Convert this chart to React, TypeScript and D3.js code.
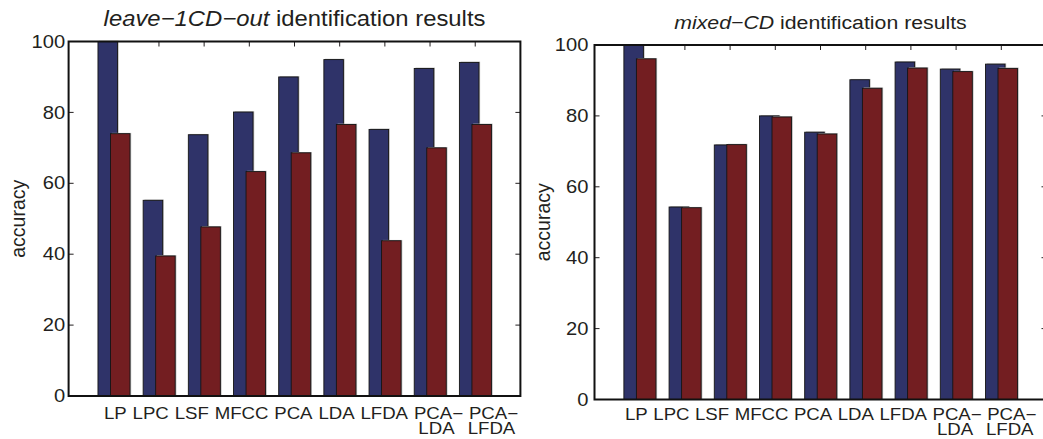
import * as d3 from "d3";

const categories = ["LP", "LPC", "LSF", "MFCC", "PCA", "LDA", "LFDA", "PCA−\nLDA", "PCA−\nLFDA"];
const leaveOutBlue = [100, 55.2, 73.7, 80.1, 90.0, 94.9, 75.2, 92.4, 94.1];
const leaveOutRed = [74.0, 39.5, 47.7, 63.3, 68.6, 76.6, 43.8, 70.0, 76.6];
const mixedBlue = [100, 54.3, 71.8, 80.0, 75.4, 90.2, 95.2, 93.2, 94.6];
const mixedRed = [96.1, 54.1, 71.9, 79.7, 74.9, 87.8, 93.5, 92.5, 93.4];
const yTicks = [0, 20, 40, 60, 80, 100];

const BLUE = "#2f3369";
const RED = "#731e21";
const INK = "#231f20";
const FONT = "'Liberation Sans', Arial, Helvetica, sans-serif";
const SX = 1.12; // text in the picture is a bit wider than plain Arial
const LABEL_SX = 1.15;
const LABEL_SIZE = 16.2;

// the category names run as one line under the axis in the original,
// so lay them out word after word between a start and an end point
let ctx: CanvasRenderingContext2D | null = null;
function textWidth(s: string) {
  if (!ctx) ctx = document.createElement("canvas").getContext("2d");
  if (!ctx) return s.length * LABEL_SIZE * 0.6;
  ctx.font = `${LABEL_SIZE}px ${FONT}`;
  return ctx.measureText(s).width * LABEL_SX;
}

function labelRun(start: number, end: number) {
  const first = categories.map(c => c.split("\n")[0]);
  const widths = first.map(textWidth);
  const gap = (end - start - d3.sum(widths)) / (first.length - 1);
  let pos = start;
  return first.map((w, k) => {
    const c = pos + widths[k] / 2;
    pos += widths[k] + gap;
    return c;
  });
}

type PanelProps = {
  left: number;
  right: number;
  top: number;
  bottom: number;
  blue: number[];
  red: number[];
  titleItalic: string;
  titleRest: string;
  titleSize: number;
  titleY: number;
  labelGap: number;
  ylabelX: number;
  labelStart: number;
  labelEnd: number;
  labelY: number;
};

function Panel(p: PanelProps) {
  const n = categories.length;
  const x = d3.scaleLinear().domain([0, n + 1]).range([p.left, p.right]);
  const y = d3.scaleLinear().domain([0, 100]).range([p.bottom, p.top]);
  const barW = 0.432;
  const tick = 5;
  const idx = d3.range(1, n + 1);
  const cx = (p.left + p.right) / 2;
  const cy = (p.top + p.bottom) / 2;
  const labelX = labelRun(x(1) + p.labelStart, x(n) + p.labelEnd);

  const bar = (i: number, v: number, off: number, fill: string, key: string) => {
    const x0 = x(i + off);
    const w = x(barW) - x(0);
    const h = y(0) - y(v);
    return (
      <g key={key}>
        <rect x={x0 + 1.2} y={y(v) - 0.8} width={w} height={h + 0.8} fill="#b5b5b5" />
        <rect x={x0} y={y(v)} width={w} height={h} fill={fill} stroke="#151515" strokeWidth={0.9} />
      </g>
    );
  };

  return (
    <g fontFamily={FONT} fill={INK}>
      {/* ticks inside the box */}
      {yTicks.map(t => (
        <g key={"yt" + t} stroke={INK} strokeWidth={1}>
          <line x1={p.left} x2={p.left + tick} y1={y(t)} y2={y(t)} />
          <line x1={p.right} x2={p.right - tick} y1={y(t)} y2={y(t)} />
        </g>
      ))}
      {idx.map(i => (
        <line key={"xt" + i} x1={x(i)} x2={x(i)} y1={p.top} y2={p.top + tick} stroke={INK} strokeWidth={1} />
      ))}

      {idx.map(i => bar(i, p.blue[i - 1], -0.35, BLUE, "b" + i))}
      {idx.map(i => bar(i, p.red[i - 1], -0.073, RED, "r" + i))}

      <rect x={p.left} y={p.top} width={p.right - p.left} height={p.bottom - p.top}
        fill="none" stroke="#111" strokeWidth={2} />

      {yTicks.map(t => (
        <g key={"yl" + t} transform={`translate(${p.left - p.labelGap},${y(t)}) scale(${SX},1)`}>
          <text textAnchor="end" dominantBaseline="central" fontSize={18}>{t}</text>
        </g>
      ))}

      {categories.map((c, k) => (
        <g key={"xl" + k} transform={`translate(${labelX[k]},${p.labelY}) scale(${LABEL_SX},1)`}>
          {c.split("\n").map((line, j) => (
            <text key={j} x={j * -2 / LABEL_SX} y={j * 15.5} textAnchor="middle" fontSize={LABEL_SIZE}>{line}</text>
          ))}
        </g>
      ))}

      <g transform={`translate(${p.ylabelX},${cy}) rotate(-90)`}>
        <text textAnchor="middle" dominantBaseline="central" fontSize={19.5}>accuracy</text>
      </g>

      <g transform={`translate(${cx},${p.titleY}) scale(${SX},1)`}>
        <text textAnchor="middle" fontSize={p.titleSize}>
          <tspan fontStyle="italic">{p.titleItalic}</tspan>
          <tspan> {p.titleRest}</tspan>
        </text>
      </g>
    </g>
  );
}

export default function App() {
  return (
    <svg width={1043} height={439} style={{ position: "absolute", left: 0, top: 0, background: "#fff" }}>
      <rect width={1043} height={439} fill="#fff" />
      <Panel left={68.6} right={520.4} top={41.5} bottom={396}
        blue={leaveOutBlue} red={leaveOutRed}
        titleItalic="leave−1CD−out" titleRest="identification results"
        titleSize={21.3} titleY={26} labelGap={3.5} ylabelX={17.5}
        labelStart={-9.8} labelEnd={42.8} labelY={418.5} />
      <Panel left={594.5} right={1046.5} top={45} bottom={399.5}
        blue={mixedBlue} red={mixedRed}
        titleItalic="mixed−CD" titleRest="identification results"
        titleSize={19} titleY={29} labelGap={6} ylabelX={543}
        labelStart={-14.7} labelEnd={35} labelY={420} />
    </svg>
  );
}
